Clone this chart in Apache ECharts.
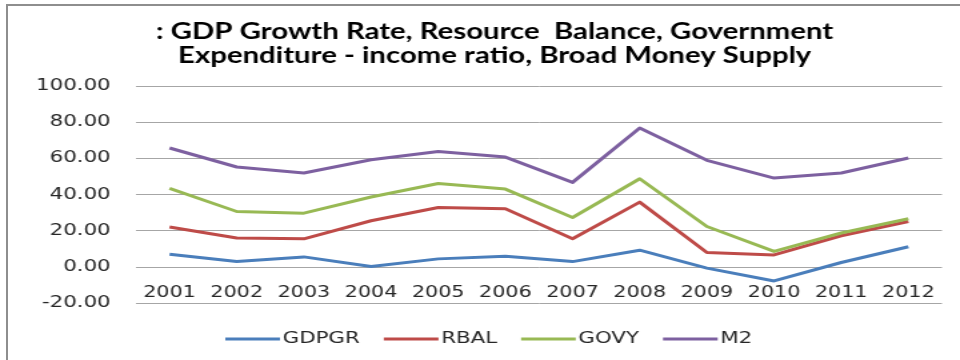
<!DOCTYPE html>
<html>
<head>
<meta charset="utf-8">
<script src="https://cdn.jsdelivr.net/npm/echarts@6/dist/echarts.min.js"></script>
<style>
  html, body { margin: 0; padding: 0; background: #ffffff; }
  #wrap { position: relative; width: 960px; height: 360px; overflow: hidden; background: #ffffff; }
  /* chart is laid out on a 720px canvas and widened to the 960px frame */
  #chart { position: absolute; left: 0; top: 0; width: 720px; height: 360px;
           transform: scaleX(1.33333); transform-origin: 0 0; }
  #frame { position: absolute; left: 6px; top: 4px; width: 1000px; height: 400px;
           border-left: 2px solid #8e8e8e; border-top: 2px solid #8e8e8e; pointer-events: none; }
</style>
</head>
<body>
<div id="wrap">
  <div id="chart"></div>
  <div id="frame"></div>
</div>
<script>
const years = ['2001','2002','2003','2004','2005','2006','2007','2008','2009','2010','2011','2012'];
const gdpgr = [7.0, 2.9, 5.5, 0.2, 4.4, 5.9, 2.9, 9.2, -0.7, -7.8, 2.4, 11.1];
const rbal  = [22.0, 15.9, 15.5, 25.5, 32.8, 32.1, 15.5, 35.8, 7.9, 6.6, 17.2, 25.1];
const govy  = [43.4, 30.6, 29.7, 38.6, 46.1, 43.0, 27.3, 48.7, 22.3, 8.5, 18.7, 26.6];
const m2    = [65.7, 55.2, 51.9, 59.2, 63.8, 60.7, 46.7, 76.8, 58.9, 49.1, 51.9, 60.2];
const seriesNames = ['GDPGR', 'RBAL', 'GOVY', 'M2'];
const seriesColors = ['#4A7EBB', '#BE4B48', '#98B954', '#7D60A0'];
const titleText = ': GDP Growth Rate, Resource  Balance, Government\nExpenditure - income ratio, Broad Money Supply';

const chart = echarts.init(document.getElementById('chart'), null, { renderer: 'canvas' });
const values = [gdpgr, rbal, govy, m2];

// grid spans -20..100 over 217px; the category axis sits on the zero line, one step above the bottom
const gridHeight = 217;
const zeroOffset = -gridHeight / 6;

chart.setOption({
  animation: false,
  backgroundColor: 'transparent',
  title: {
    text: titleText,
    left: 366,
    top: 15,
    textAlign: 'center',
    textStyle: {
      fontFamily: 'Lato',
      fontWeight: 'bold',
      fontSize: 22,
      lineHeight: 24,
      color: '#000000'
    }
  },
  legend: {
    data: seriesNames,
    left: 164,
    top: 326,
    icon: 'rect',
    itemWidth: 41,
    itemHeight: 3,
    itemGap: 18,
    textStyle: { fontFamily: 'DejaVu Sans', fontSize: 16, color: '#262626', padding: [0, 0, 0, -3] }
  },
  grid: { left: 102, right: 13.5, top: 86, bottom: 57, containLabel: false },
  xAxis: {
    type: 'category',
    data: years,
    boundaryGap: true,
    offset: zeroOffset,
    axisLine: { show: false, onZero: false },
    axisTick: { show: false },
    axisLabel: { interval: 0, fontFamily: 'DejaVu Sans', fontSize: 15.5, color: '#262626', margin: 18 }
  },
  yAxis: {
    type: 'value',
    min: -20,
    max: 100,
    interval: 20,
    axisLine: { show: false },
    axisTick: { show: false },
    splitLine: { lineStyle: { color: '#a6a6a6', width: 1 } },
    axisLabel: {
      fontFamily: 'DejaVu Sans', fontSize: 16, color: '#262626', margin: 19,
      formatter: v => v.toFixed(2)
    }
  },
  series: seriesNames.map((name, i) => ({
    name,
    type: 'line',
    data: values[i],
    symbol: 'none',
    color: seriesColors[i],
    lineStyle: { width: 3, color: seriesColors[i], join: 'round' }
  }))
});
</script>
</body>
</html>
